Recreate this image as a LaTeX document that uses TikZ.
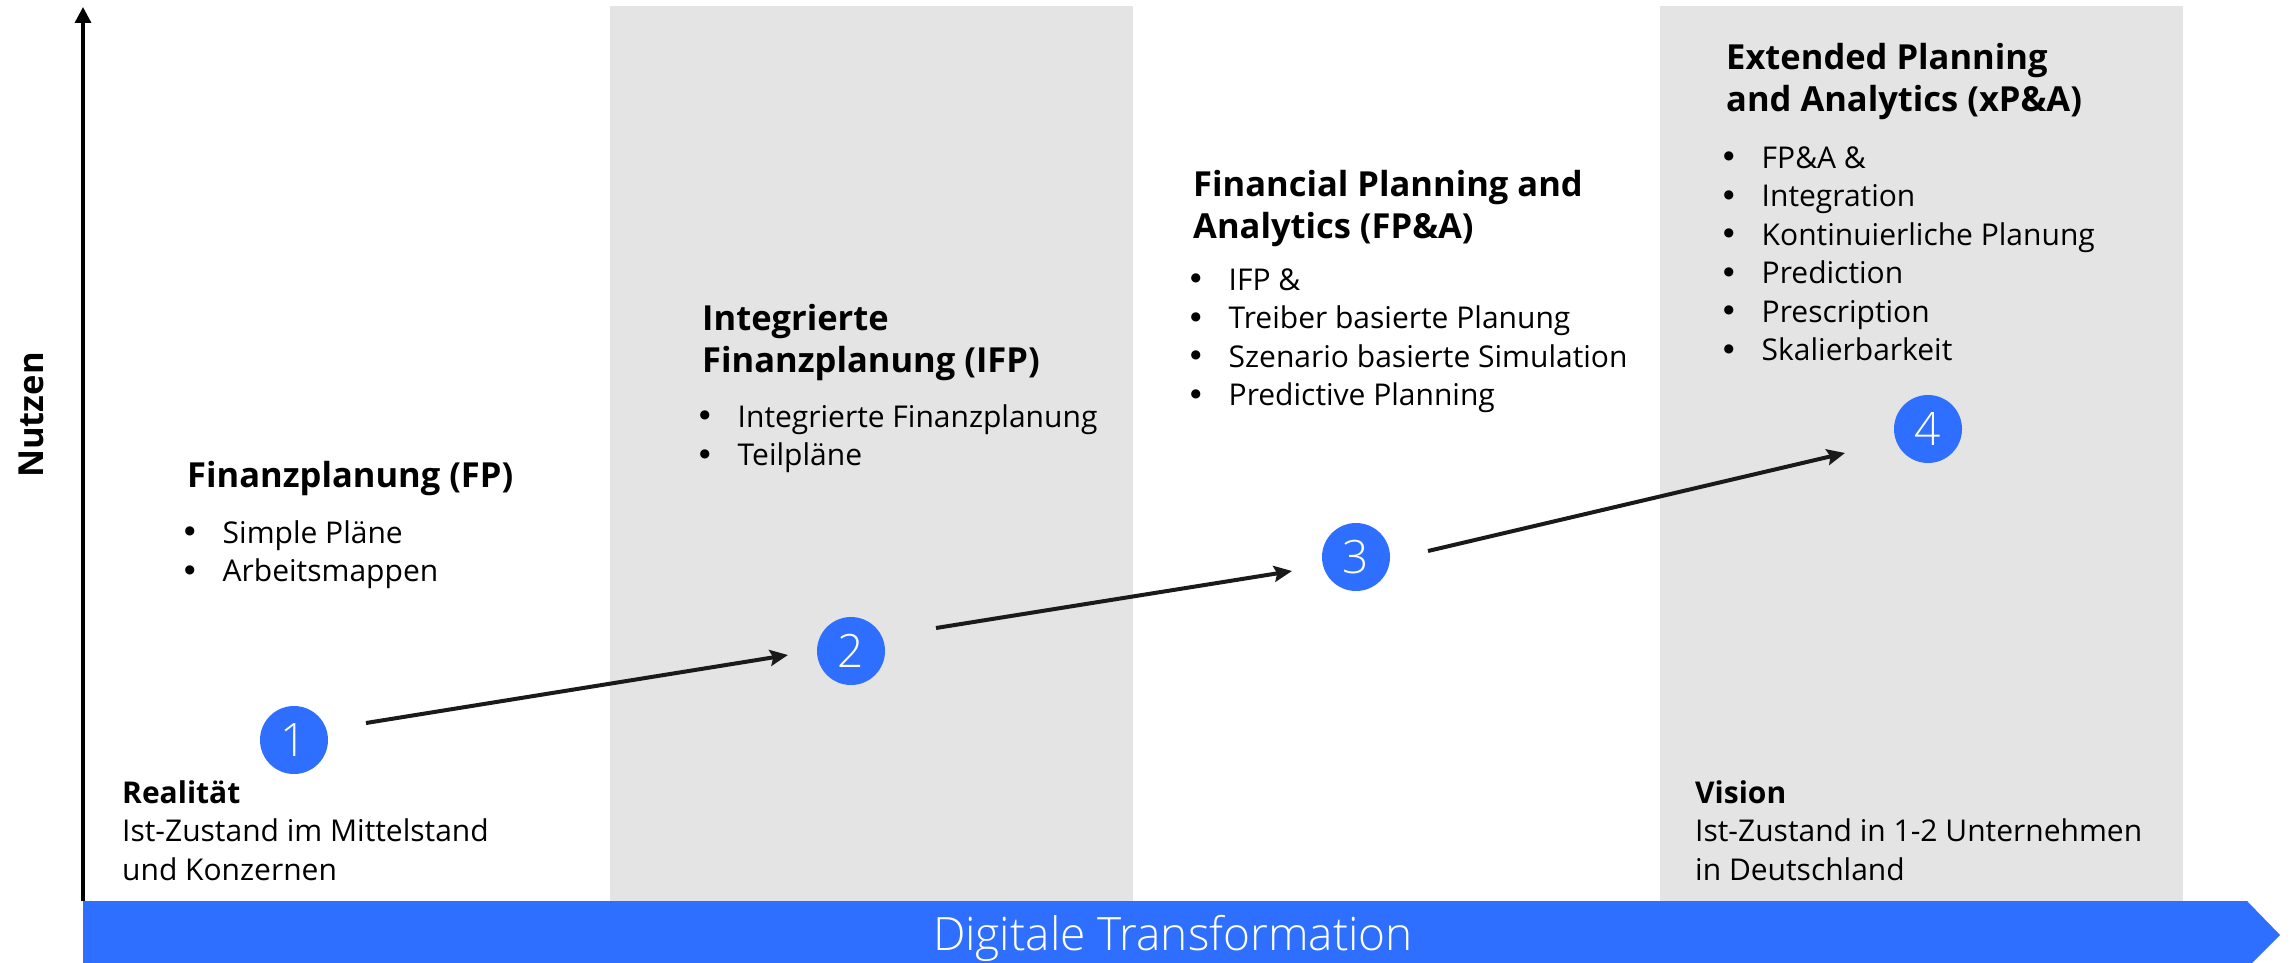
\documentclass[tikz,border=0pt]{standalone}
\usepackage{fontspec}
\setmainfont{Open Sans}
\newfontfamily\lightfont{Open Sans Light}
\newfontfamily\dvsans{DejaVu Sans}
\usetikzlibrary{arrows.meta}
\definecolor{tblue}{HTML}{2F6FFF}
\definecolor{band}{HTML}{E4E4E4}
\definecolor{ink}{HTML}{1A1A1A}
\newcommand{\mybul}{\makebox[38pt][l]{\raisebox{8.5pt}{\dvsans\fontsize{12}{12}\selectfont ●}}}
\newcommand{\mybi}[1]{\strut\mybul #1}
\tikzset{
  hd/.style={anchor=north west, inner sep=0pt, align=left, font=\fontsize{34.5}{42}\selectfont\bfseries},
  bl/.style={anchor=north west, inner sep=0pt, align=left, font=\fontsize{30}{38.5}\selectfont},
  num/.style={circle, fill=tblue, minimum size=68pt, inner sep=0pt, text=white, font=\lightfont\fontsize{46}{46}\selectfont},
  conn/.style={draw=ink, line width=4pt, -{Stealth[length=18pt,width=16pt,inset=3pt]}},
  axisline/.style={draw=black, line width=3.3pt, -{Triangle[length=16pt,width=16pt]}},
  bandbox/.style={fill=band, draw=none},
}
\begin{document}
\begin{tikzpicture}[x=1pt,y=-1pt]
\useasboundingbox (0,0) rectangle (2290,963);
% background bands
\fill[bandbox] (610,6) rectangle (1133,901);
\fill[bandbox] (1660,6) rectangle (2183,901);
% bottom arrow bar
\fill[tblue] (83,901) -- (2247,901) -- (2280,935) -- (2252,963) -- (83,963) -- cycle;
\node[anchor=base, inner sep=0pt, text=white, font=\lightfont\fontsize{46}{46}\selectfont] (dt) at (1173,950) {Digitale Transformation};
% vertical axis
\coordinate (o) at (83,901);
\coordinate (ytop) at (83,7);
\draw[axisline] (o) -- (ytop);
\node[rotate=90, inner sep=0pt, font=\fontsize{34.5}{42}\selectfont\bfseries] (nutzen) at (31,415) {Nutzen};
% circles
\node[num] (c1) at (294,740) {1};
\node[num] (c2) at (851,651) {2};
\node[num] (c3) at (1356,557) {3};
\node[num] (c4) at (1928,429) {4};
% connectors
\coordinate (s1) at (366,723); \coordinate (e1) at (788,655);
\coordinate (s2) at (936,628); \coordinate (e2) at (1292,571);
\coordinate (s3) at (1428,551); \coordinate (e3) at (1845,453);
\draw[conn] (s1) -- (e1);
\draw[conn] (s2) -- (e2);
\draw[conn] (s3) -- (e3);
% FP
\node[hd] (fph) at (187,457.6) {\strut Finanzplanung (FP)};
\node[bl] (fpl) at (184.5,516.05) {\mybi{Simple Pläne}\\\mybi{Arbeitsmappen}};
% IFP
\node[hd] (ifph) at (702,300.6) {\strut Integrierte\\\strut Finanzplanung (IFP)};
\node[bl] (ifpl) at (699.5,400.05) {\mybi{Integrierte Finanzplanung}\\\mybi{Teilpläne}};
% FP&A
\node[hd] (fpah) at (1193,166.6) {\strut Financial Planning and\\\strut Analytics (FP\&A)};
\node[bl] (fpal) at (1190.5,263.05) {\mybi{IFP \&}\\\mybi{Treiber basierte Planung}\\\mybi{Szenario basierte Simulation}\\\mybi{Predictive Planning}};
% xP&A
\node[hd] (xpah) at (1726,39.6) {\strut Extended Planning\\\strut and Analytics (xP\&A)};
\node[bl] (xpal) at (1723.5,141.05) {\mybi{FP\&A \&}\\\mybi{Integration}\\\mybi{Kontinuierliche Planung}\\\mybi{Prediction}\\\mybi{Prescription}\\\mybi{Skalierbarkeit}};
% Realität
\node[bl] (real) at (122,776.05) {\strut\textbf{Realität}\\\strut Ist-Zustand im Mittelstand\\\strut und Konzernen};
% Vision
\node[bl] (vis) at (1695,776.05) {\strut\textbf{Vision}\\\strut Ist-Zustand in 1-2 Unternehmen\\\strut in Deutschland};
\end{tikzpicture}
\end{document}
